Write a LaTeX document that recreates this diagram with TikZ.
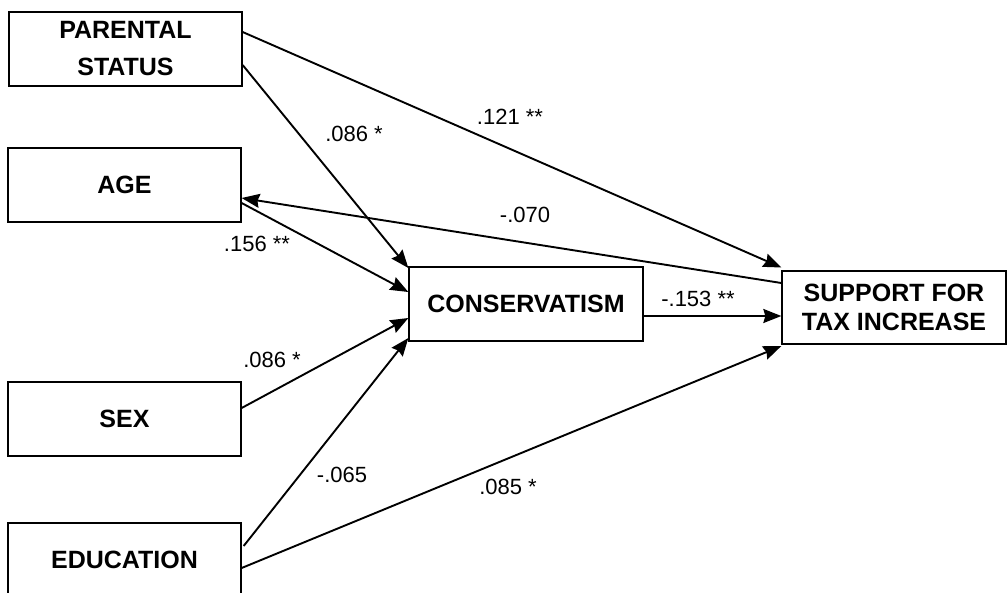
\documentclass[tikz,border=0pt]{standalone}
\usepackage{fontspec}
\setmainfont{Liberation Sans}
\usetikzlibrary{arrows.meta}
\begin{document}
\begin{tikzpicture}[x=1pt,y=-1pt,
 box/.style={draw, line width=1.3pt, minimum width=233pt, minimum height=74pt, inner sep=0pt, align=center},
 boxfont/.style={font=\fontsize{25}{#1}\selectfont\bfseries},
 arr/.style={line width=1.9pt, -{Stealth[length=18pt,width=14pt,inset=2pt]}},
 lab/.style={font=\fontsize{22}{26}\selectfont, inner sep=0pt}]
\useasboundingbox (0,0) rectangle (1008,592);
% boxes
\node[box, boxfont=37] (ps) at (125.5,49) {PARENTAL\\STATUS};
\node[box, boxfont=30] (age) at (124.5,185) {AGE};
\node[box, boxfont=30] (sex) at (124.5,419) {SEX};
\node[box, boxfont=30] (edu) at (124.5,560) {EDUCATION};
\node[box, boxfont=30, minimum width=234pt] (con) at (526,304) {CONSERVATISM};
\node[box, boxfont=29, minimum width=224pt, minimum height=73pt] (sup) at (894,307.5) {SUPPORT FOR\\TAX INCREASE};
% connectors
\draw[arr] ([yshift=17pt]ps.east) -- ([yshift=40pt]sup.west);
\draw[arr] ([yshift=-16pt]ps.east) -- ([yshift=36pt]con.west);
\draw[arr] ([yshift=-18pt]age.east) -- ([yshift=12pt]con.west);
\draw[arr] ([yshift=24.5pt]sup.west) -- ([yshift=-13pt]age.east);
\draw[arr] ([yshift=11pt]sex.east) -- ([yshift=-14pt]con.west);
\draw[arr] ([yshift=14pt,xshift=2pt]edu.east) -- ([yshift=-34pt]con.west);
\draw[arr] ([yshift=-8pt]edu.east) -- ([yshift=-38.5pt]sup.west);
\draw[arr] ([yshift=-12pt]con.east) -- ([yshift=-8.5pt]sup.west);
% labels
\node[lab] (l1) at (510,117) {.121 **};
\node[lab] (l2) at (354,134) {.086 *};
\node[lab] (l3) at (525,215) {-.070};
\node[lab] (l4) at (257,244) {.156 **};
\node[lab] (l5) at (698,299) {-.153 **};
\node[lab] (l6) at (272,360) {.086 *};
\node[lab] (l7) at (342,475) {-.065};
\node[lab] (l8) at (508,487) {.085 *};
\end{tikzpicture}
\end{document}
